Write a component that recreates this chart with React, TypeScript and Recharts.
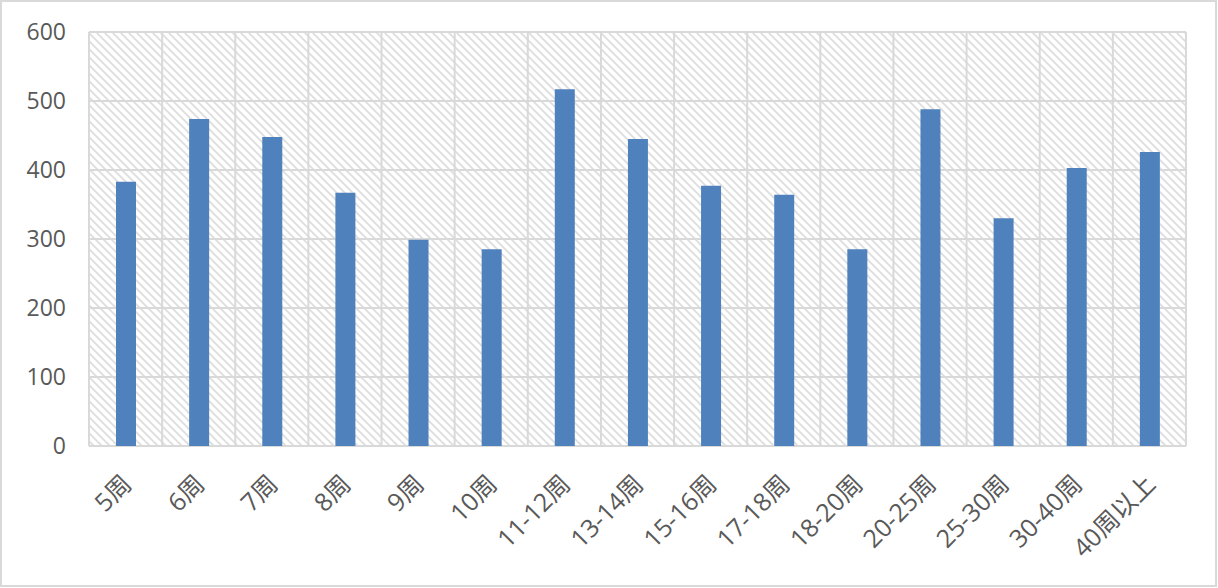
import React from 'react';
import { BarChart, Bar, XAxis, YAxis, CartesianGrid } from 'recharts';

const categories = ['5周', '6周', '7周', '8周', '9周', '10周', '11-12周', '13-14周', '15-16周', '17-18周', '18-20周', '20-25周', '25-30周', '30-40周', '40周以上'];
const values = [383, 474, 448, 367, 299, 285, 517, 445, 377, 364, 285, 488, 330, 403, 426];
const yTicks = [0, 100, 200, 300, 400, 500, 600];

const data = categories.map((c, i) => ({ name: c, value: values[i] }));

const FONT = '"Open Sans", "Noto Sans CJK SC", sans-serif';
const TEXT = '#595959';
const GRID = '#d9d9d9';

export default function App() {
  const n = categories.length;
  return (
    <div style={{ position: 'absolute', left: 0, top: 0, width: 1218, height: 588, background: '#fff' }}>
      <svg width={0} height={0} style={{ position: 'absolute' }}>
        <defs>
          <pattern id="hatch" patternUnits="userSpaceOnUse" width={8} height={8}>
            <rect x={0} y={0} width={8} height={8} fill="#ffffff" />
            <path d="M-1,-1 L9,9 M-1,7 L1,9 M7,-1 L9,1" stroke="#dedede" strokeWidth={1.8} />
          </pattern>
        </defs>
      </svg>
      <div
        style={{
          position: 'absolute',
          left: 0,
          top: 0,
          width: 1217,
          height: 587,
          boxSizing: 'border-box',
          border: `2px solid ${GRID}`,
        }}
      />
      <div style={{ position: 'absolute', left: 0, top: 0 }}>
        <BarChart
          width={1218}
          height={588}
          data={data}
          margin={{ top: 32, right: 32, left: 29, bottom: 42 }}
          barCategoryGap={0}
        >
          <CartesianGrid
            stroke={GRID}
            strokeWidth={2}
            fill="url(#hatch)"
            fillOpacity={1}
            verticalCoordinatesGenerator={({ offset }: any) =>
              Array.from({ length: n + 1 }, (_, i) => offset.left + (i * offset.width) / n)
            }
          />
          <XAxis
            dataKey="name"
            interval={0}
            axisLine={false}
            tickLine={false}
            height={100}
            tickMargin={21}
            angle={-45}
            textAnchor="end"
            dx={-5}
            tick={{ fill: TEXT, fontSize: 25, fontFamily: FONT }}
          />
          <YAxis
            domain={[0, 600]}
            ticks={yTicks}
            interval={0}
            axisLine={false}
            tickLine={false}
            width={60}
            tickMargin={17}
            tick={{ fill: TEXT, fontSize: 23, fontFamily: FONT }}
          />
          <Bar dataKey="value" fill="#4f81bd" barSize={20} isAnimationActive={false} />
        </BarChart>
      </div>
    </div>
  );
}
